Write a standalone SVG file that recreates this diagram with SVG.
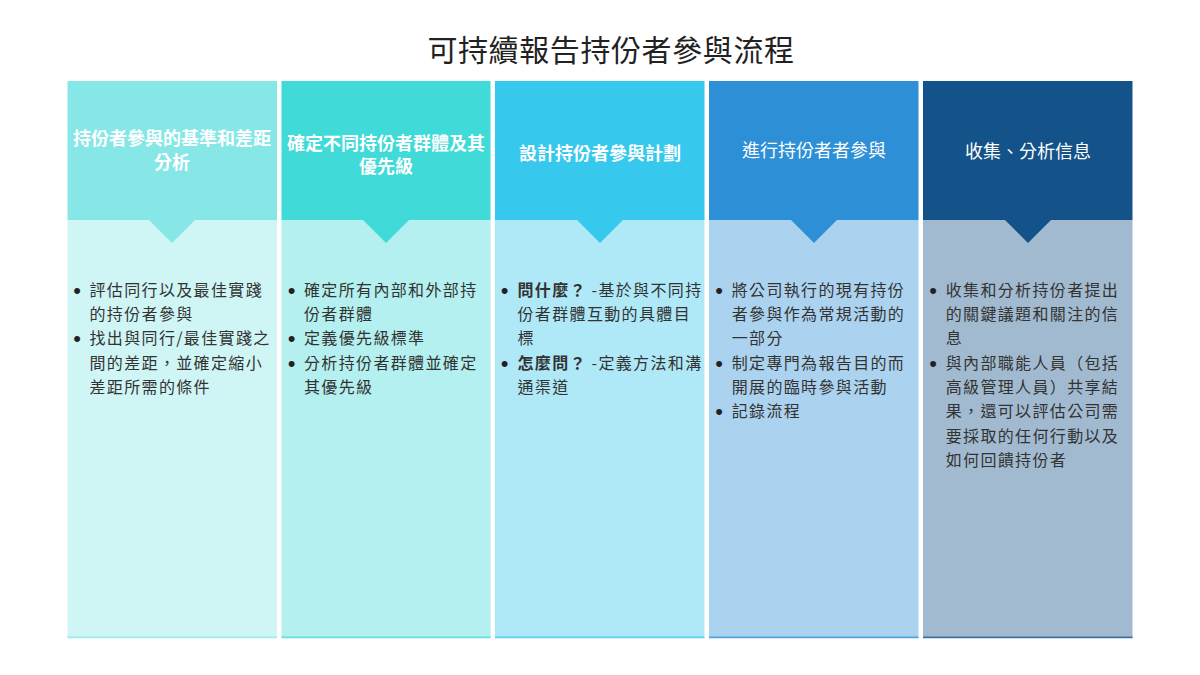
<svg xmlns="http://www.w3.org/2000/svg" width="1200" height="675" viewBox="0 0 1200 675">
<style>
.title{font-family:"Noto Sans CJK TC","Noto Sans CJK SC",sans-serif;font-size:30px;fill:#222;letter-spacing:0.6px}
.hd{font-family:"Noto Sans CJK TC","Noto Sans CJK SC",sans-serif;font-size:18px;fill:#fff;text-anchor:middle}
.hb{font-weight:bold}
.bd{font-family:"Noto Sans CJK TC","Noto Sans CJK SC",sans-serif;font-size:16px;fill:#333;letter-spacing:1.35px}
.bl{font-family:"Liberation Sans",Arial,sans-serif;font-size:22px;fill:#222;text-anchor:middle}
.b{font-weight:bold}
.body{opacity:0.4}
.base{opacity:0.7}
</style>
<rect width="1200" height="675" fill="#fff"/>
<text class="title" x="611" y="61" text-anchor="middle">可持續報告持份者參與流程</text>

<g id="col1">
<rect x="67.5" y="220" width="209.5" height="418" fill="#87E7E7" class="body"/>
<rect x="67.5" y="636.5" width="209.5" height="1.8" fill="#87E7E7" class="base"/>
<rect x="67.5" y="81" width="209.5" height="139" fill="#87E7E7"/>
<polygon points="149,220 195,220 172,243" fill="#87E7E7"/>
<text class="hd hb" x="172" y="145">持份者參與的基準和差距</text>
<text class="hd hb" x="172" y="169">分析</text>
<text class="bl" x="77" y="297.5">•</text>
<text class="bd" x="89.5" y="295.5">評估同行以及最佳實踐</text>
<text class="bd" x="89.5" y="319.9">的持份者參與</text>
<text class="bl" x="77" y="346.2">•</text>
<text class="bd" x="89.5" y="344.2">找出與同行/最佳實踐之</text>
<text class="bd" x="89.5" y="368.5">間的差距，並確定縮小</text>
<text class="bd" x="89.5" y="392.9">差距所需的條件</text>
</g>

<g id="col2">
<rect x="281.5" y="220" width="209" height="418" fill="#40DAD8" class="body"/>
<rect x="281.5" y="636.5" width="209" height="1.8" fill="#40DAD8" class="base"/>
<rect x="281.5" y="81" width="209" height="139" fill="#40DAD8"/>
<polygon points="363,220 409,220 386,243" fill="#40DAD8"/>
<text class="hd hb" x="386" y="149.5">確定不同持份者群體及其</text>
<text class="hd hb" x="386" y="173">優先級</text>
<text class="bl" x="291.5" y="297.5">•</text>
<text class="bd" x="304" y="295.5">確定所有內部和外部持</text>
<text class="bd" x="304" y="319.9">份者群體</text>
<text class="bl" x="291.5" y="346.2">•</text>
<text class="bd" x="304" y="344.2">定義優先級標準</text>
<text class="bl" x="291.5" y="370.5">•</text>
<text class="bd" x="304" y="368.5">分析持份者群體並確定</text>
<text class="bd" x="304" y="392.9">其優先級</text>
</g>

<g id="col3">
<rect x="495" y="220" width="209.5" height="418" fill="#37C8EE" class="body"/>
<rect x="495" y="636.5" width="209.5" height="1.8" fill="#37C8EE" class="base"/>
<rect x="495" y="81" width="209.5" height="139" fill="#37C8EE"/>
<polygon points="577,220 623,220 600,243" fill="#37C8EE"/>
<text class="hd hb" x="600" y="159.5">設計持份者參與計劃</text>
<text class="bl" x="504.5" y="297.5">•</text>
<text class="bd" x="517.5" y="295.5"><tspan class="b">問什麼？</tspan><tspan x="591.5">-基於與不同持</tspan></text>
<text class="bd" x="517.5" y="319.9">份者群體互動的具體目</text>
<text class="bd" x="517.5" y="344.2">標</text>
<text class="bl" x="504.5" y="370.5">•</text>
<text class="bd" x="517.5" y="368.5"><tspan class="b">怎麼問？</tspan><tspan x="591.5">-定義方法和溝</tspan></text>
<text class="bd" x="517.5" y="392.9">通渠道</text>
</g>

<g id="col4">
<rect x="709" y="220" width="209.5" height="418" fill="#2D8FD5" class="body"/>
<rect x="709" y="636.5" width="209.5" height="1.8" fill="#2D8FD5" class="base"/>
<rect x="709" y="81" width="209.5" height="139" fill="#2D8FD5"/>
<polygon points="791,220 837,220 814,243" fill="#2D8FD5"/>
<text class="hd" x="814" y="157">進行持份者者參與</text>
<text class="bl" x="719" y="297.5">•</text>
<text class="bd" x="731.7" y="295.5">將公司執行的現有持份</text>
<text class="bd" x="731.7" y="319.9">者參與作為常規活動的</text>
<text class="bd" x="731.7" y="344.2">一部分</text>
<text class="bl" x="719" y="370.5">•</text>
<text class="bd" x="731.7" y="368.5">制定專門為報告目的而</text>
<text class="bd" x="731.7" y="392.9">開展的臨時參與活動</text>
<text class="bl" x="719" y="419.2">•</text>
<text class="bd" x="731.7" y="417.2">記錄流程</text>
</g>

<g id="col5">
<rect x="923" y="220" width="209.5" height="418" fill="#14528A" class="body"/>
<rect x="923" y="636.5" width="209.5" height="1.8" fill="#14528A" class="base"/>
<rect x="923" y="81" width="209.5" height="139" fill="#14528A"/>
<polygon points="1005,220 1051,220 1028,243" fill="#14528A"/>
<text class="hd" x="1028" y="158">收集、分析信息</text>
<text class="bl" x="933" y="297.5">•</text>
<text class="bd" x="945.7" y="295.5">收集和分析持份者提出</text>
<text class="bd" x="945.7" y="319.9">的關鍵議題和關注的信</text>
<text class="bd" x="945.7" y="344.2">息</text>
<text class="bl" x="933" y="370.5">•</text>
<text class="bd" x="945.7" y="368.5">與內部職能人員（包括</text>
<text class="bd" x="945.7" y="392.9">高級管理人員）共享結</text>
<text class="bd" x="945.7" y="417.2">果，還可以評估公司需</text>
<text class="bd" x="945.7" y="441.5">要採取的任何行動以及</text>
<text class="bd" x="945.7" y="465.9">如何回饋持份者</text>
</g>
</svg>
